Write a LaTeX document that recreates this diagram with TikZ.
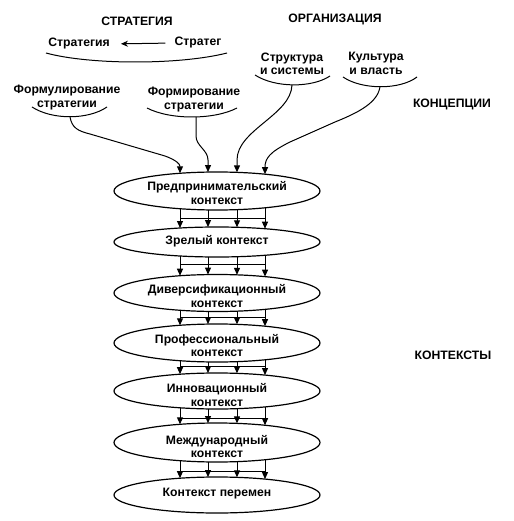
\documentclass[tikz,border=0pt]{standalone}
\usepackage{fontspec}
\newfontfamily\labfont{Liberation Sans Bold}
\usetikzlibrary{shapes.geometric,arrows.meta,calc}
\begin{document}
\begin{tikzpicture}[x=1pt,y=-1pt,
  txt/.style={font=\labfont\fontsize{12.2}{13.5}\selectfont, align=center, inner sep=0pt},
  ell/.style={draw, ellipse, line width=1.2pt, minimum width=206pt, inner sep=0pt},
  conn/.style={line width=1pt},
  arr/.style={conn, -{Triangle[length=7pt,width=6pt]}},
  smile/.style={line width=1pt}]
\useasboundingbox (0,0) rectangle (513,521);

% headings
\node[txt] (hs) at (137,21) {СТРАТЕГИЯ};
\node[txt] (ho) at (335,19) {ОРГАНИЗАЦИЯ};
\node[txt] (hk) at (452,104) {КОНЦЕПЦИИ};
\node[txt] (hc) at (453,355) {КОНТЕКСТЫ};

% strategy / strategist
\node[txt] (s1) at (79,44) {Стратегия};
\node[txt] (s2) at (198,43) {Стратег};
\draw[conn, -{Stealth[length=7pt,width=6pt]}, shorten <=9pt, shorten >=11pt] (s2.west) -- (s1.east);
\draw[smile] (46,53) .. controls (90,65) and (180,65) .. (227,53);

% concept labels
\node[txt] (c1) at (67,97.5) {Формулирование\\стратегии};
\node[txt] (c2) at (194,99.5) {Формирование\\стратегии};
\node[txt] (c3) at (292,64) {Структура\\и системы};
\node[txt] (c4) at (376,63.5) {Культура\\и власть};

\draw[smile] (32,107) .. controls (52,120) and (88,120) .. (107,107);
\draw[smile] (147,108) .. controls (170,120) and (214,120) .. (237,108);
\draw[smile] (255,75) .. controls (275,88) and (312,88) .. (330,76);
\draw[smile] (343,77) .. controls (362,90) and (400,90) .. (417,77);

\coordinate (a1) at (70,117);
\coordinate (a2) at (196,117);
\coordinate (a3) at (292,85);
\coordinate (a4) at (380,86.5);

% context ellipses
\node[ell, minimum height=38pt] (e1) at (217,191) {};
\node[ell, minimum height=30pt] (e2) at (217,242) {};
\node[ell, minimum height=37pt] (e3) at (217,293) {};
\node[ell, minimum height=38pt] (e4) at (217,343) {};
\node[ell, minimum height=36pt] (e5) at (217,391) {};
\node[ell, minimum height=39pt] (e6) at (217,442.5) {};
\node[ell, minimum height=36pt] (e7) at (217,495) {};

\node[txt] (t1) at (217,193) {Предпринимательский\\контекст};
\node[txt] (t2) at (217,241) {Зрелый контекст};
\node[txt] (t3) at (217,296) {Диверсификационный\\контекст};
\node[txt] (t4) at (217,345.5) {Профессиональный\\контекст};
\node[txt] (t5) at (217,395) {Инновационный\\контекст};
\node[txt] (t6) at (217,446.5) {Международный\\контекст};
\node[txt] (t7) at (217,494) {Контекст перемен};

% connectors from concepts to first context
\draw[arr] (a1) .. controls (72,128) and (78,131) .. (90,134) -- (165,156)
  .. controls (176,160) and (180,164) .. ($(e1.center)+(-37,{-19*0.933})$);
\draw[arr] (a2) -- (196,136) .. controls (196,146) and (208,150) .. (208,160)
  -- ($(e1.center)+(-9,{-19*0.996})$);
\draw[arr] (a3) .. controls (291,115) and (237,130) .. (237,160)
  -- ($(e1.center)+(20,{-19*0.981})$);
\draw[arr] (a4) .. controls (378,102) and (360,112) .. (335,122) -- (290,142)
  .. controls (270,152) and (265,158) .. ($(e1.center)+(48,{-19*0.885})$);

% arrows between contexts
\foreach \up/\lo/\ryu/\ryl/\by in {1/2/19/15/218, 2/3/15/18.5/264, 3/4/18.5/19/317, 4/5/19/18/366, 5/6/18/19.5/418, 6/7/19.5/18/471}{
  \foreach \dx/\f in {-37/0.933,-9/0.996,20/0.981,48/0.885}{
    \draw[arr] ($(e\up.center)+({\dx},{\ryu*\f})$) -- ($(e\lo.center)+({\dx},{-\ryl*\f})$);
  }
  \draw[conn] (180,\by) -- (265,\by);
}
\end{tikzpicture}
\end{document}
